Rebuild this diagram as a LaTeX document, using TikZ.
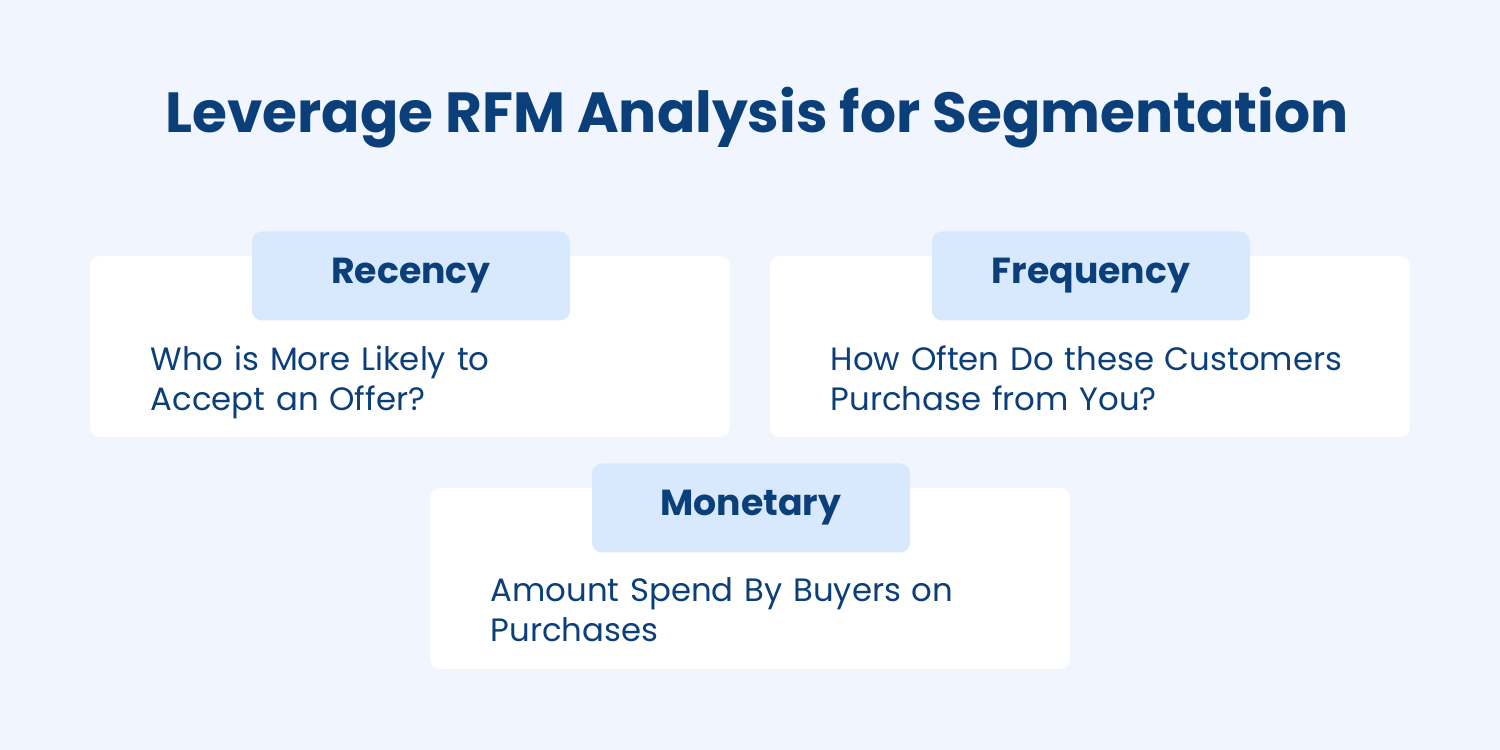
\documentclass[tikz,border=0pt]{standalone}
\usepackage{fontspec}
\setmainfont{Poppins}
\usetikzlibrary{positioning}
\definecolor{bgblue}{HTML}{F0F5FE}
\definecolor{tabblue}{HTML}{D8E8FD}
\definecolor{inkblue}{HTML}{0B3F7A}
\begin{document}
\begin{tikzpicture}[
    card/.style={rectangle, fill=white, rounded corners=0.1cm, minimum width=6.4cm, minimum height=1.81cm, inner sep=0pt},
    tab/.style={rectangle, fill=tabblue, rounded corners=0.1cm, minimum width=3.18cm, minimum height=0.89cm, inner sep=0pt, text=inkblue, font=\fontsize{10.3}{12}\selectfont\bfseries},
    body/.style={anchor=north west, align=left, text width=5.8cm, inner sep=0pt, text=inkblue, font=\fontsize{9.2}{11.4}\selectfont}
]

% Background
\fill[bgblue] (0,0) rectangle (15,7.5);

% Title
\node[text=inkblue, font=\fontsize{16.1}{19}\selectfont\bfseries] (title) at (7.57,6.32) {Leverage RFM Analysis for Segmentation};

% Recency
\node[card] (reccard) at (4.1,4.035) {};
\node[tab] (rectab) at (4.11,4.74) {Recency};
\node[body] (rectext) at (1.5,4.05) {Who is More Likely to\\Accept an Offer?};

% Frequency
\node[card] (freqcard) at (10.9,4.035) {};
\node[tab] (freqtab) at (10.91,4.74) {Frequency};
\node[body] (freqtext) at (8.3,4.05) {How Often Do these Customers\\Purchase from You?};

% Monetary
\node[card] (moncard) at (7.5,1.715) {};
\node[tab] (montab) at (7.51,2.42) {Monetary};
\node[body] (montext) at (4.9,1.73) {Amount Spend By Buyers on\\Purchases};

\end{tikzpicture}
\end{document}
